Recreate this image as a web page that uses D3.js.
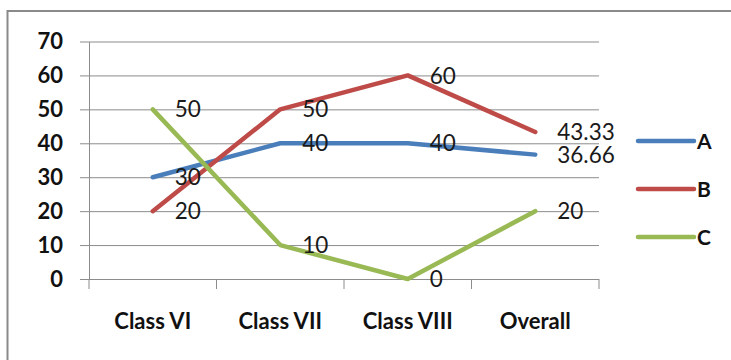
<!DOCTYPE html>
<html>
<head>
<meta charset="utf-8">
<script src="https://cdn.jsdelivr.net/npm/d3@7"></script>
<style>
  html, body { margin: 0; padding: 0; background: #fff; }
  svg { display: block; }
</style>
</head>
<body>
<svg id="chart" width="731" height="360"></svg>
<script>
// Scores per class for groups A, B and C, plus the overall average
const categories = ["Class VI", "Class VII", "Class VIII", "Overall"];
const seriesNames = ["A", "B", "C"];
const valuesA = [30, 40, 40, 36.66];
const valuesB = [20, 50, 60, 43.33];
const valuesC = [50, 10, 0, 20];
const yTicks = [0, 10, 20, 30, 40, 50, 60, 70];
const seriesColors = ["#4A7EBB", "#BE4B48", "#98B954"];

const series = seriesNames.map((name, i) => ({
  name,
  color: seriesColors[i],
  values: [valuesA, valuesB, valuesC][i]
}));

const svg = d3.select("#chart");

// Outer chart frame (runs off the right and bottom edges)
svg.append("rect")
  .attr("x", 7.5).attr("y", 11)
  .attr("width", 760).attr("height", 380)
  .attr("fill", "#fff")
  .attr("stroke", "#8a8a8a")
  .attr("stroke-width", 2);

const plot = { left: 89, right: 599, top: 41.5, bottom: 279, tickLeft: 80 };

const x = d3.scaleBand().domain(categories).range([plot.left, plot.right]);
const y = d3.scaleLinear().domain([0, 70]).range([plot.bottom, plot.top]);
const cx = c => x(c) + x.bandwidth() / 2;

// Horizontal gridlines + value labels
const yAxis = svg.append("g")
  .attr("transform", `translate(${plot.tickLeft},0)`)
  .call(d3.axisLeft(y).tickValues(yTicks)
    .tickSize(-(plot.right - plot.tickLeft))
    .tickPadding(17));
yAxis.select(".domain").remove();
yAxis.selectAll(".tick line").attr("stroke", "#8c8c8c").attr("stroke-width", 1);
yAxis.selectAll(".tick text")
  .attr("font-family", "Lato, sans-serif")
  .attr("font-weight", "bold")
  .attr("font-size", 22)
  .attr("fill", "#111");

// Vertical axis line
svg.append("g")
  .attr("transform", `translate(${plot.left},0)`)
  .call(d3.axisLeft(y).tickValues([]).tickSizeOuter(0))
  .select(".domain").attr("stroke", "#8c8c8c");

// Category boundary tick marks
const boundaries = categories.map(c => x(c)).concat([x.range()[1]]);
svg.append("g").selectAll("line")
  .data(boundaries)
  .join("line")
  .attr("x1", d => d).attr("x2", d => d)
  .attr("y1", y(0)).attr("y2", y(0) + 10)
  .attr("stroke", "#8c8c8c");

// Category labels
const xAxis = svg.append("g")
  .attr("transform", `translate(0,${y(0)})`)
  .call(d3.axisBottom(x).tickSize(0).tickPadding(34));
xAxis.select(".domain").remove();
xAxis.selectAll(".tick text")
  .attr("font-family", "Lato, sans-serif")
  .attr("font-weight", "bold")
  .attr("font-size", 22)
  .attr("fill", "#111");

// Series lines
const line = d3.line()
  .x((d, i) => cx(categories[i]))
  .y(d => y(d));

svg.append("g").selectAll("path")
  .data(series)
  .join("path")
  .attr("d", s => line(s.values))
  .attr("fill", "none")
  .attr("stroke", s => s.color)
  .attr("stroke-width", 4.5)
  .attr("stroke-linecap", "round")
  .attr("stroke-linejoin", "round");

// Point value labels
svg.append("g").selectAll("g")
  .data(series)
  .join("g")
  .selectAll("text")
  .data(s => s.values.map((v, i) => ({ v, c: categories[i] })))
  .join("text")
  .attr("x", d => cx(d.c) + 22)
  .attr("y", d => y(d.v))
  .attr("dy", "0.36em")
  .attr("font-family", "Lato, sans-serif")
  .attr("font-size", 22.5)
  .attr("fill", "#1a1a1a")
  .text(d => d.v);

// Legend
const legend = svg.append("g").selectAll("g")
  .data(series)
  .join("g")
  .attr("transform", (s, i) => `translate(638,${141 + i * 48})`);
legend.append("line")
  .attr("x1", 0).attr("x2", 56)
  .attr("stroke", s => s.color)
  .attr("stroke-width", 4.5)
  .attr("stroke-linecap", "round");
legend.append("text")
  .attr("x", 59)
  .attr("dy", "0.36em")
  .attr("font-family", "Lato, sans-serif")
  .attr("font-weight", "bold")
  .attr("font-size", 21)
  .attr("fill", "#111")
  .text(s => s.name);
</script>
</body>
</html>
